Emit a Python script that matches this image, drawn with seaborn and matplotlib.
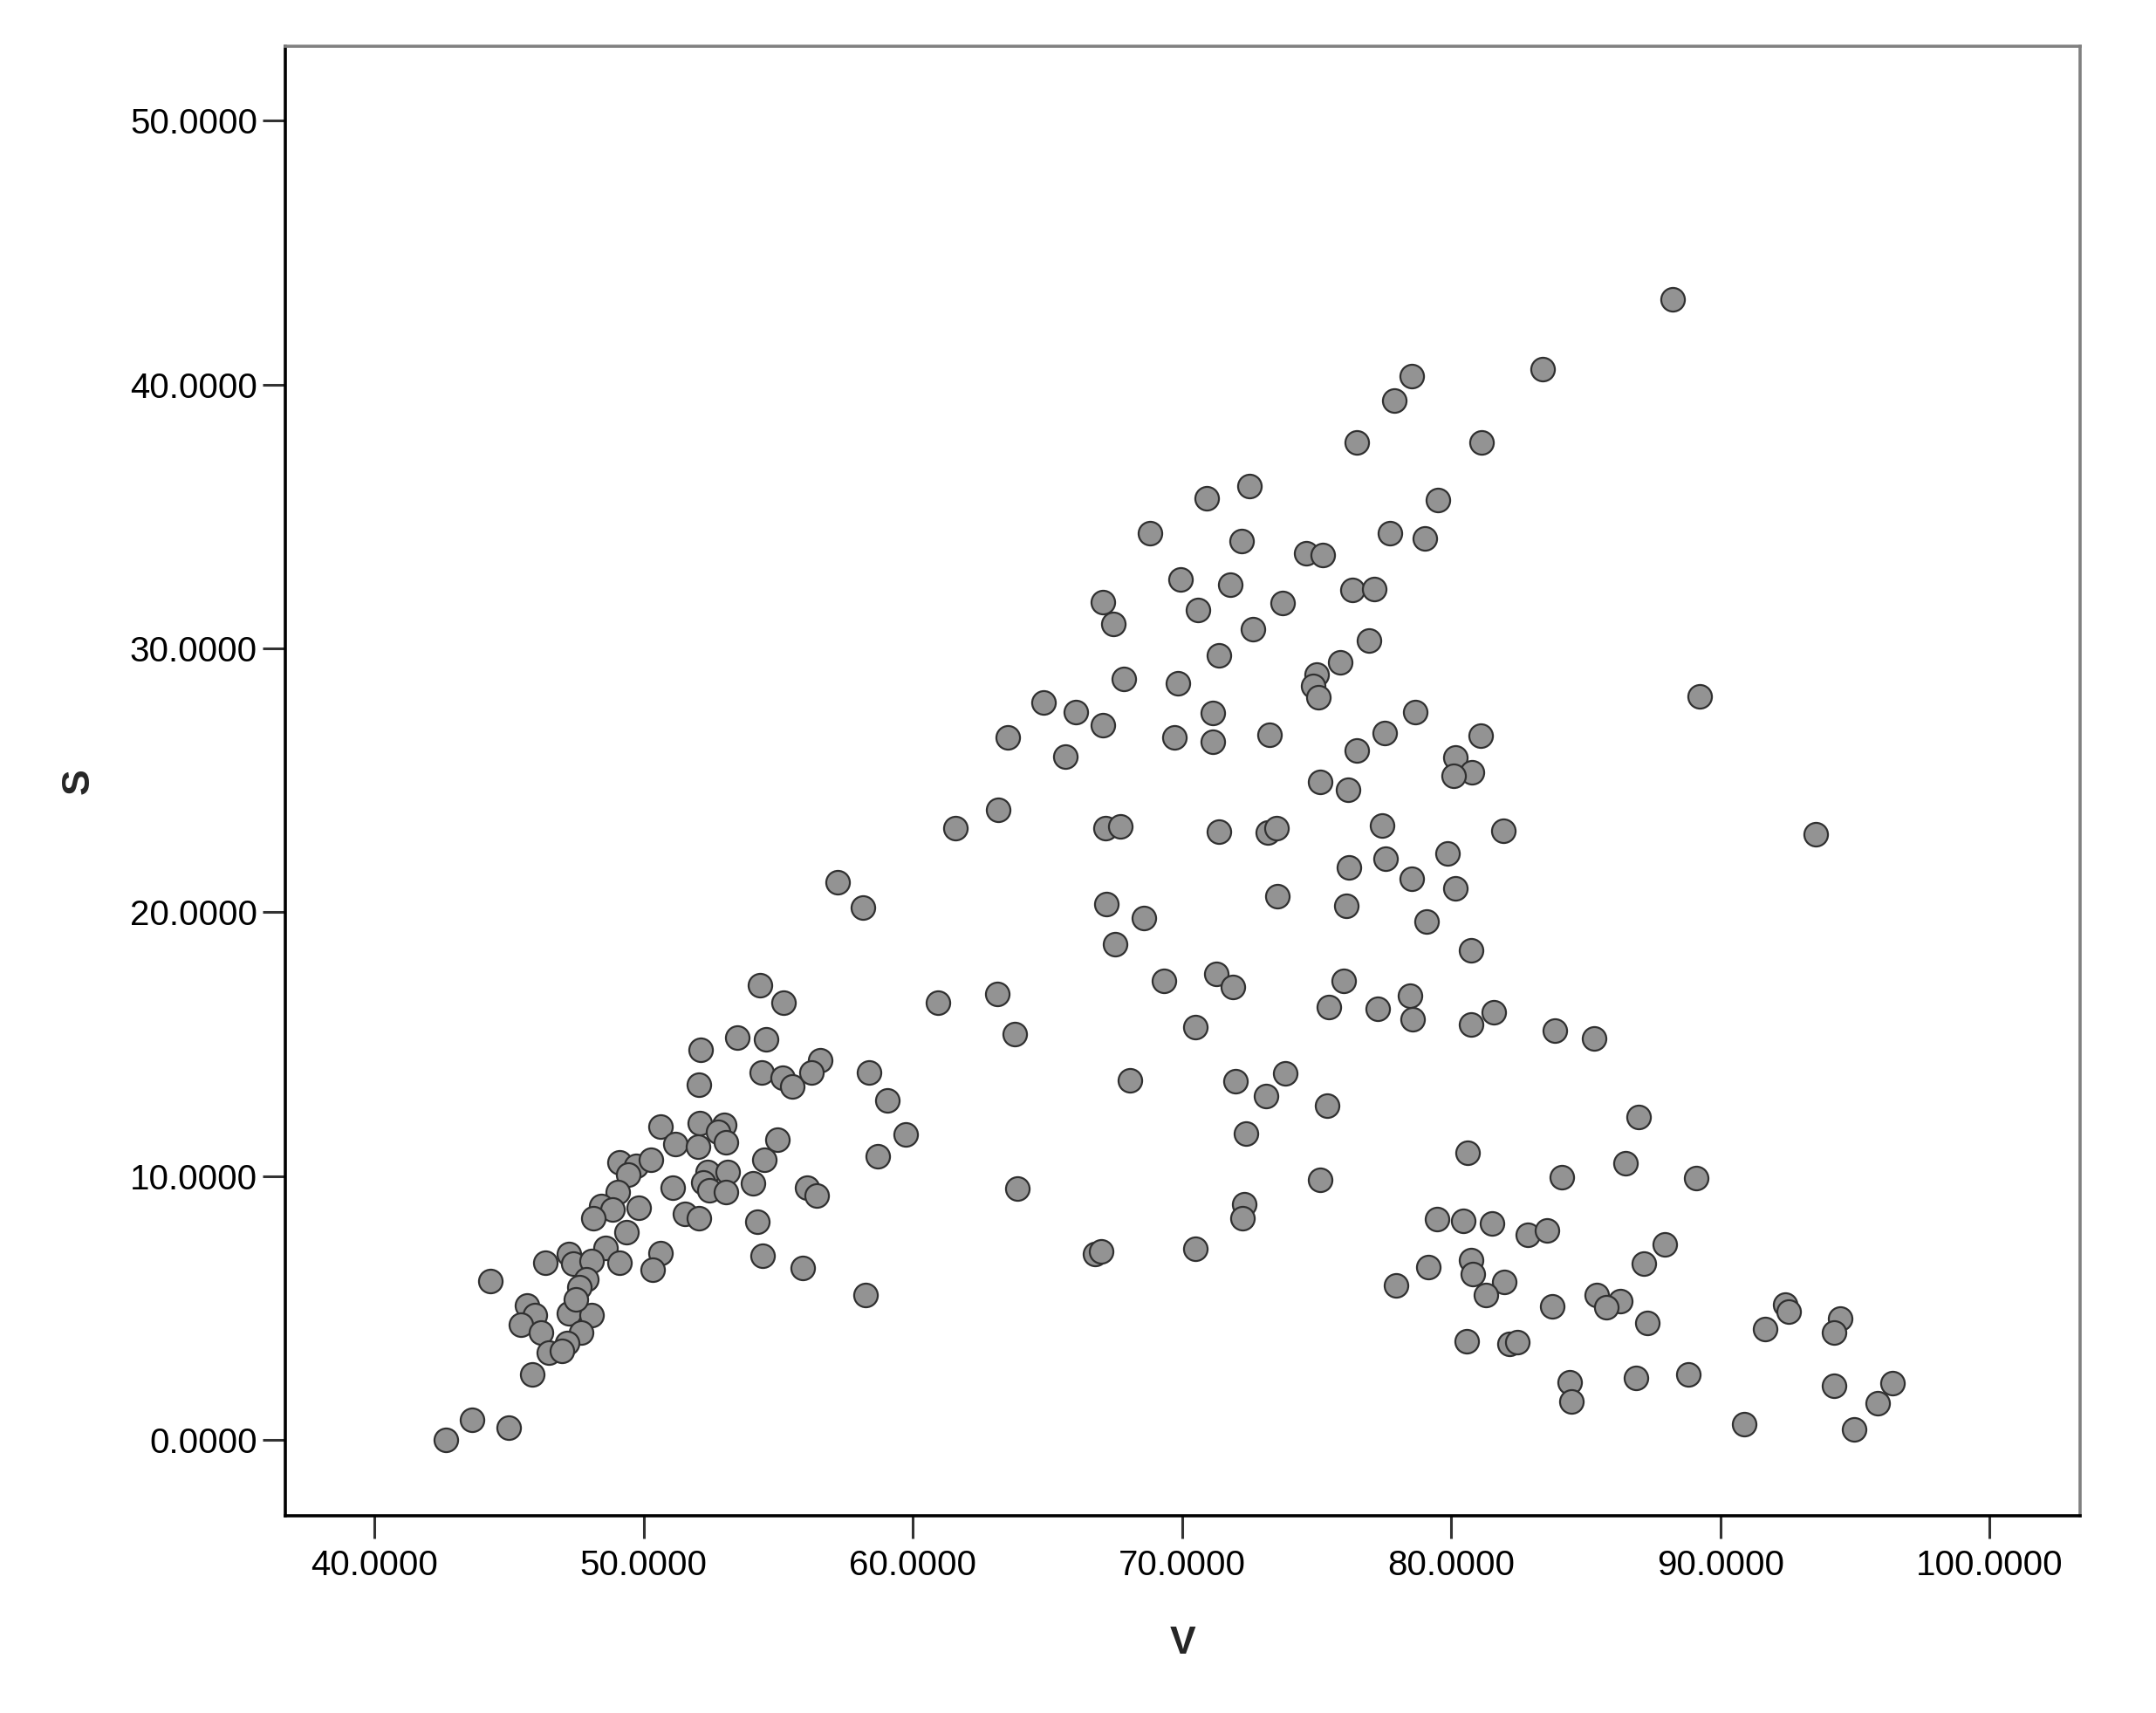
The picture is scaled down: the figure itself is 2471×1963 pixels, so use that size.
import matplotlib
matplotlib.use("Agg")
import matplotlib.pyplot as plt
import seaborn as sns
import pandas as pd

# 数据：V / S 散点
v = [54.32, 55.21, 53.47, 54.55, 52.12, 56.56, 54.40, 55.17, 55.53, 56.25,
     58.36, 52.04, 50.62, 52.08, 53.01, 52.78, 53.07, 51.19, 52.01, 54.97,
     54.49, 49.09, 49.71, 50.28, 52.39, 53.12, 52.22, 51.08, 52.44, 53.07,
     54.06, 56.08, 56.42, 49.43, 49.03, 48.41, 48.86, 49.83, 48.12, 51.53,
     52.04, 54.24, 49.37, 48.58, 50.62, 50.34, 54.43, 55.91, 58.24, 44.31,
     46.36, 47.21, 47.38, 48.06, 49.09, 47.89, 47.61, 45.68, 45.96, 45.45,
     46.19, 47.21, 48.06, 47.50, 47.67, 47.16, 46.47, 46.98, 45.85, 43.63,
     44.99, 42.66,
     76.50, 72.52, 70.92, 68.82, 72.22, 74.62, 75.23, 77.72, 69.95, 71.79,
     76.32, 77.14, 67.05, 70.60, 73.75, 67.46, 72.63, 76.94, 71.37, 75.88,
     74.99, 74.87, 75.06, 67.85, 69.85, 64.85, 66.04, 67.05, 71.14, 63.54,
     69.73, 71.15, 73.25, 77.52, 76.50, 65.68, 75.13, 76.17, 63.18, 61.59,
     67.16, 67.71, 71.37, 73.20, 73.52, 77.43, 77.55, 76.20, 57.21,
     58.15, 67.20, 68.60, 67.50, 73.54, 76.10, 69.33, 71.28, 71.90, 76.00,
     75.45, 77.27, 70.50, 63.15, 60.93, 63.80, 59.05, 59.75, 58.70, 63.87,
     68.05, 71.98, 73.83, 73.13, 75.38, 72.37, 75.13, 72.31, 72.26, 66.77,
     67.01, 70.50, 77.95,
     88.24, 83.38, 78.53, 77.90, 81.12, 79.49, 79.01, 89.24, 78.67, 81.09,
     80.15, 80.77, 80.09, 81.95, 93.54, 79.86,
     78.53, 80.15, 79.08, 80.73, 78.46, 78.56, 80.74, 81.57, 83.86, 85.30,
     86.97, 80.60, 86.49, 84.10, 89.11, 79.46, 80.45, 81.51, 82.83, 83.55,
     87.94, 87.16, 79.14, 80.74, 80.80, 81.96, 81.28, 83.74, 85.40, 86.27,
     85.77, 87.29, 92.42, 92.54, 91.67, 94.45, 94.23, 80.56, 82.15, 82.47,
     84.39, 84.46, 86.87, 88.80, 94.23, 96.40, 95.85, 90.87, 94.98]

s = [17.22, 16.56, 15.26, 15.18, 14.77, 14.39, 13.94, 13.73, 13.41, 13.94,
     13.91, 13.47, 11.87, 11.99, 11.93, 11.69, 11.28, 11.22, 11.10, 11.38,
     10.63, 10.51, 10.40, 10.63, 10.16, 10.16, 9.75, 9.57, 9.45, 9.39,
     9.71, 9.57, 9.27, 10.04, 9.39, 8.86, 8.74, 8.80, 8.39, 8.56,
     8.39, 8.27, 7.86, 7.27, 7.09, 6.44, 6.97, 6.52, 5.49, 6.03,
     6.73, 7.03, 6.68, 6.79, 6.73, 6.08, 5.79, 5.08, 4.73, 4.37,
     4.08, 4.79, 4.73, 5.32, 4.08, 3.66, 3.31, 3.37, 2.48, 0.77,
     0.47, 0.00,
     37.80, 36.16, 35.68, 34.36, 34.06, 33.62, 33.53, 34.36, 32.62, 32.41,
     32.22, 32.26, 31.75, 31.44, 31.73, 30.94, 30.74, 30.30, 29.75, 29.46,
     29.02, 28.57, 28.16, 28.85, 28.68, 27.94, 27.57, 27.08, 27.54, 26.64,
     26.61, 26.46, 26.73, 26.80, 26.12, 25.90, 24.94, 24.64, 23.88, 23.17,
     23.18, 23.24, 23.06, 23.02, 23.17, 23.29, 22.03, 21.71, 21.12,
     20.17, 20.32, 19.77, 18.77, 20.62, 20.25, 17.41, 17.66, 17.18, 17.41,
     16.41, 16.33, 15.65, 16.89, 16.58, 15.37, 12.86, 11.58, 10.75, 9.54,
     13.63, 13.59, 13.90, 13.04, 12.67, 11.61, 9.87, 8.92, 8.39, 7.06,
     7.15, 7.25, 5.85,
     43.23, 40.57, 40.33, 39.40, 37.79, 35.61, 34.17, 28.19, 27.60, 26.68,
     25.87, 25.31, 25.17, 23.10, 22.95, 22.24,
     21.28, 20.91, 19.63, 18.55, 16.85, 15.94, 15.74, 16.19, 15.52, 15.23,
     12.24, 10.87, 10.50, 9.95, 9.91, 8.36, 8.29, 8.21, 7.77, 7.95,
     7.40, 6.69, 6.56, 6.81, 6.29, 5.97, 5.48, 5.07, 5.48, 5.26,
     5.04, 4.42, 5.11, 4.85, 4.20, 4.59, 4.08, 3.74, 3.63, 3.71,
     2.19, 1.45, 2.35, 2.48, 2.04, 2.16, 1.39, 0.61, 0.41]

x_ticks = [40, 50, 60, 70, 80, 90, 100]
y_ticks = [0, 10, 20, 30, 40, 50]

df = pd.DataFrame({'V': v, 'S': s})

sns.set_style('white')
plt.rcParams['font.family'] = ['Liberation Sans', 'DejaVu Sans']

fig = plt.figure(figsize=(24.71, 19.63), dpi=100)
ax = fig.add_axes([0.1323, 0.1151, 0.8325, 0.8579])

sns.scatterplot(data=df, x='V', y='S', ax=ax, s=380, color='#939393',
                edgecolor='#303030', linewidth=1.6, zorder=3)

ax.set_xlim(36.69, 103.36)
ax.set_ylim(-2.88, 52.82)
ax.set_xticks(x_ticks)
ax.set_yticks(y_ticks)
ax.set_xticklabels(['%.4f' % t for t in x_ticks])
ax.set_yticklabels(['%.4f' % t for t in y_ticks])

# 边框：左下黑色，上右灰色
for side in ['left', 'bottom']:
    ax.spines[side].set_color('black')
    ax.spines[side].set_linewidth(2.6)
for side in ['top', 'right']:
    ax.spines[side].set_color('#808080')
    ax.spines[side].set_linewidth(2.6)
    ax.spines[side].set_visible(True)

ax.tick_params(axis='x', direction='out', length=19, width=2.2, color='#333333',
               pad=8, labelsize=29, labelcolor='black', bottom=True)
ax.tick_params(axis='y', direction='out', length=19, width=2.2, color='#333333',
               pad=4, labelsize=29, labelcolor='black', left=True)

ax.set_xlabel('V', fontsize=32, fontweight='bold', va='center')
ax.set_ylabel('S', fontsize=32, fontweight='bold', va='center', ha='center')
ax.xaxis.set_label_coords(0.5, -0.0867)
ax.yaxis.set_label_coords(-0.1152, 0.5)

fig.savefig('out.png', dpi=100, facecolor='white')
